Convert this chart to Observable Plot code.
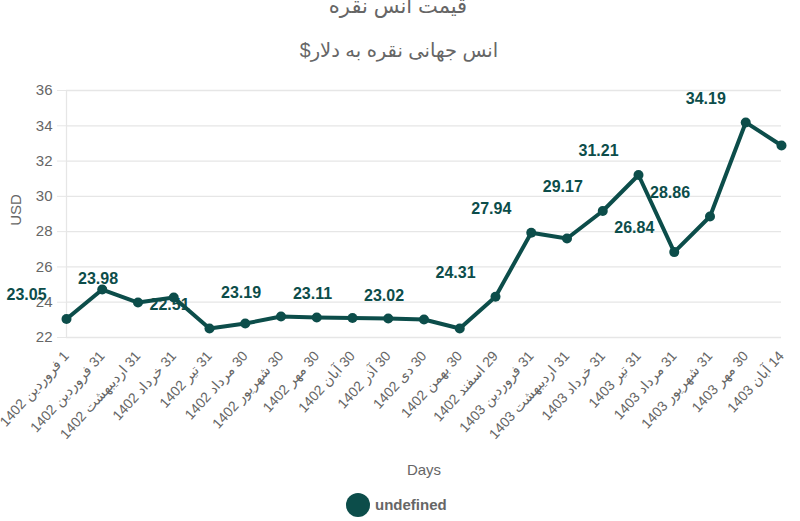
<!DOCTYPE html>
<html><head><meta charset="utf-8">
<script src="https://cdn.jsdelivr.net/npm/d3@7"></script>
<script src="https://cdn.jsdelivr.net/npm/@observablehq/plot@0.6"></script>
<style>
body{margin:0;background:#fff;font-family:"Liberation Sans",Arial,"DejaVu Sans",sans-serif;}
#wrap{position:relative;width:800px;height:521px;overflow:hidden}
.t{position:absolute;color:#666;white-space:nowrap}
</style></head><body>
<div id="wrap">
  <div class="t" dir="rtl" style="left:0;width:796px;text-align:center;top:-6px;font-size:21px">قیمت انس نقره</div>
  <div class="t" dir="rtl" style="left:0;width:798px;text-align:center;top:39px;font-size:19.5px">انس جهانی نقره به دلار$</div>
  <div id="chart" style="position:absolute;left:0;top:0"></div>
  <div class="t" style="left:15px;top:210px;font-size:15px;transform:translate(-50%,-50%) rotate(-90deg)">USD</div>
  <div class="t" style="left:424px;top:469px;font-size:15px;transform:translate(-50%,-50%)">Days</div>
  <div class="t" style="left:346px;top:493px;width:24px;height:24px;border-radius:50%;background:#0c4d4a"></div>
  <div class="t" style="left:375px;top:496px;font-size:15px;font-weight:bold">undefined</div>
</div>
<script>
const days = ["1 فروردین 1402","31 فروردین 1402","31 اردیبهشت 1402","31 خرداد 1402","31 تیر 1402","30 مرداد 1402","30 شهریور 1402","30 مهر 1402","30 آبان 1402","30 آذر 1402","30 دی 1402","30 بهمن 1402","29 اسفند 1402","31 فروردین 1403","31 اردیبهشت 1403","31 خرداد 1403","31 تیر 1403","31 مرداد 1403","31 شهریور 1403","30 مهر 1403","14 آبان 1403"];
const prices = [23.05,24.72,23.98,24.27,22.51,22.79,23.19,23.13,23.11,23.08,23.02,22.51,24.31,27.94,27.61,29.17,31.21,26.84,28.86,34.19,32.88];
const labeledIdx = [0,2,4,6,8,10,12,13,15,16,17,18,19];
const yTicks = [22,24,26,28,30,32,34,36];

const data = days.map((d,i)=>({day:d, price:prices[i], i}));
const labeled = data.filter(d=>labeledIdx.includes(d.i));
const teal = "#0c4d4a";

const chart = Plot.plot({
  width:800, height:521,
  marginTop:90, marginBottom:184, marginLeft:66, marginRight:19,
  style:{color:"#666", fontFamily:'"Liberation Sans",Arial,"DejaVu Sans",sans-serif', background:"transparent"},
  x:{type:"point", domain:days, padding:0, round:false, label:null},
  y:{domain:[22,36], label:null},
  marks:[
    Plot.gridY(yTicks,{stroke:"#e6e6e6", strokeOpacity:1, strokeWidth:1.3}),
    Plot.ruleX([days[0]],{stroke:"#e6e6e6", strokeWidth:1.3}),
    Plot.axisY(yTicks,{tickSize:9, tickPadding:5, stroke:"#e6e6e6", fontSize:15, fill:"#666", label:null}),
    Plot.axisX({tickRotate:-48, tickSize:0, tickPadding:16, fontSize:14, fill:"#666", label:null,
      tickFormat:s=>"\u202B"+s+"\u202C"}),
    Plot.line(data,{x:"day", y:"price", stroke:teal, strokeWidth:4, strokeLinejoin:"round"}),
    Plot.dot(data,{x:"day", y:"price", fill:teal, r:5}),
    Plot.text(labeled,{x:"day", y:"price", text:d=>d.price.toFixed(2), dx:-40, dy:-24, fill:teal, fontSize:16, fontWeight:"bold"})
  ]
});
document.getElementById("chart").appendChild(chart);
</script>
</body></html>
